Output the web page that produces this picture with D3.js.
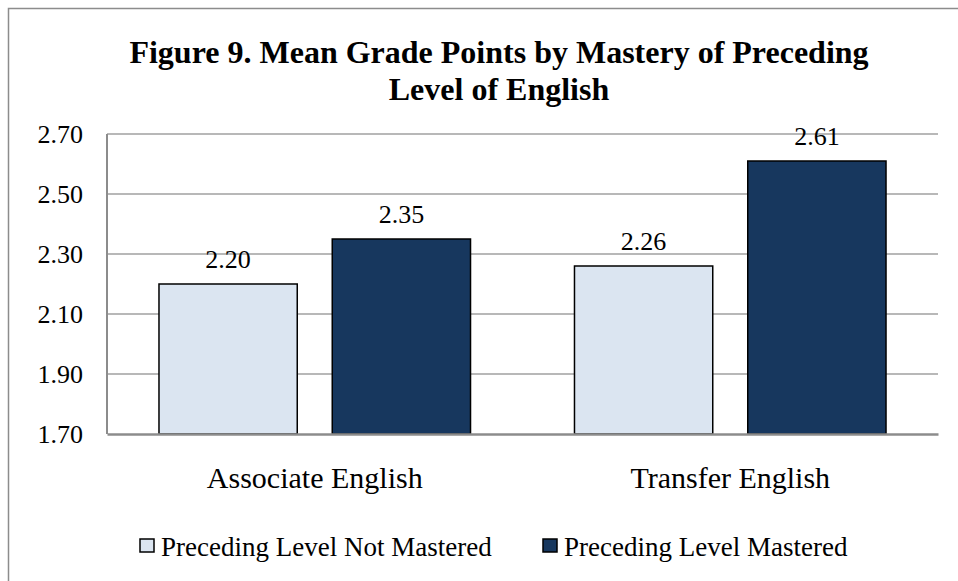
<!DOCTYPE html>
<html>
<head>
<meta charset="utf-8">
<script src="https://cdn.jsdelivr.net/npm/d3@7"></script>
<style>
  html, body { margin: 0; padding: 0; background: #fff; }
  svg text { font-family: "Liberation Serif", "Times New Roman", serif; fill: #000; }
</style>
</head>
<body>
<svg id="chart" width="958" height="581"></svg>
<script>
// chart data
const categories = ["Associate English", "Transfer English"];
const seriesNames = ["Preceding Level Not Mastered", "Preceding Level Mastered"];
const notMastered = [2.20, 2.26];
const mastered = [2.35, 2.61];
const yTicks = [1.70, 1.90, 2.10, 2.30, 2.50, 2.70];
const titleLines = ["Figure 9. Mean Grade Points by Mastery of Preceding", "Level of English"];

const colors = ["#dbe5f1", "#17375e"];
const values = [notMastered, mastered];

const svg = d3.select("#chart");
const plot = { left: 107, right: 938, top: 134, bottom: 434 };

// outer chart border (right and bottom fall outside the picture)
svg.append("rect")
    .attr("x", 8.5).attr("y", 8.5)
    .attr("width", 980).attr("height", 600)
    .attr("fill", "none")
    .attr("stroke", "#8c8c8c")
    .attr("stroke-width", 1.5);

// title
svg.append("text")
    .attr("text-anchor", "middle")
    .attr("font-weight", "bold")
    .attr("font-size", 32)
    .selectAll("tspan")
    .data(titleLines)
    .enter().append("tspan")
    .attr("x", 499)
    .attr("y", (d, i) => 63 + i * 37)
    .text(d => d);

// scales
const y = d3.scaleLinear()
    .domain([1.70, 2.70])
    .range([plot.bottom, plot.top]);

const x0 = d3.scaleBand()
    .domain(categories)
    .range([plot.left, plot.right]);

const x1 = d3.scaleBand()
    .domain(seriesNames)
    .range([0, x0.bandwidth()])
    .paddingInner(0.202)
    .paddingOuter(0.30);

// gridlines
svg.append("g")
    .selectAll("line")
    .data(yTicks.slice(1))
    .enter().append("line")
    .attr("x1", plot.left).attr("x2", plot.right)
    .attr("y1", d => y(d)).attr("y2", d => y(d))
    .attr("stroke", "#a0a0a0")
    .attr("stroke-width", 1.5);

// y axis labels
const yAxis = svg.append("g")
    .attr("transform", `translate(${plot.left},0)`)
    .call(d3.axisLeft(y).tickValues(yTicks).tickFormat(d3.format(".2f")).tickSize(0).tickPadding(24));
yAxis.select(".domain").remove();
yAxis.selectAll("text")
    .attr("font-size", 26)
    .attr("fill", "#000");

// bars
const groups = svg.append("g")
    .selectAll("g")
    .data(categories)
    .enter().append("g")
    .attr("transform", d => `translate(${x0(d)},0)`);

groups.selectAll("rect")
    .data((d, ci) => seriesNames.map((s, si) => ({ s: s, si: si, v: values[si][ci] })))
    .enter().append("rect")
    .attr("x", d => x1(d.s))
    .attr("width", x1.bandwidth())
    .attr("y", d => y(d.v))
    .attr("height", d => y(1.70) - y(d.v))
    .attr("fill", d => colors[d.si])
    .attr("stroke", "#000")
    .attr("stroke-width", 1.5);

// value labels
groups.selectAll("text.val")
    .data((d, ci) => seriesNames.map((s, si) => ({ s: s, v: values[si][ci] })))
    .enter().append("text")
    .attr("class", "val")
    .attr("text-anchor", "middle")
    .attr("font-size", 26)
    .attr("x", d => x1(d.s) + x1.bandwidth() / 2)
    .attr("y", d => y(d.v) - 16)
    .text(d => d.v.toFixed(2));

// axis lines
svg.append("line")
    .attr("x1", plot.left).attr("x2", plot.left)
    .attr("y1", plot.top).attr("y2", plot.bottom)
    .attr("stroke", "#8c8c8c").attr("stroke-width", 2);

const xAxis = svg.append("g")
    .attr("transform", `translate(0,${plot.bottom})`)
    .call(d3.axisBottom(x0).tickSize(0).tickPadding(0));
xAxis.select(".domain")
    .attr("stroke", "#8c8c8c").attr("stroke-width", 2.5);
xAxis.selectAll("text")
    .attr("font-size", 30)
    .attr("fill", "#000")
    .attr("dy", 0)
    .attr("y", 54);

// legend
const legendX = [140, 543];
const legend = svg.append("g")
    .selectAll("g")
    .data(seriesNames)
    .enter().append("g")
    .attr("transform", (d, i) => `translate(${legendX[i]},539)`);
legend.append("rect")
    .attr("width", 14).attr("height", 13)
    .attr("fill", (d, i) => colors[i])
    .attr("stroke", "#000").attr("stroke-width", 1.5);
legend.append("text")
    .attr("x", 21).attr("y", 17)
    .attr("font-size", 27)
    .text(d => d);
</script>
</body>
</html>
